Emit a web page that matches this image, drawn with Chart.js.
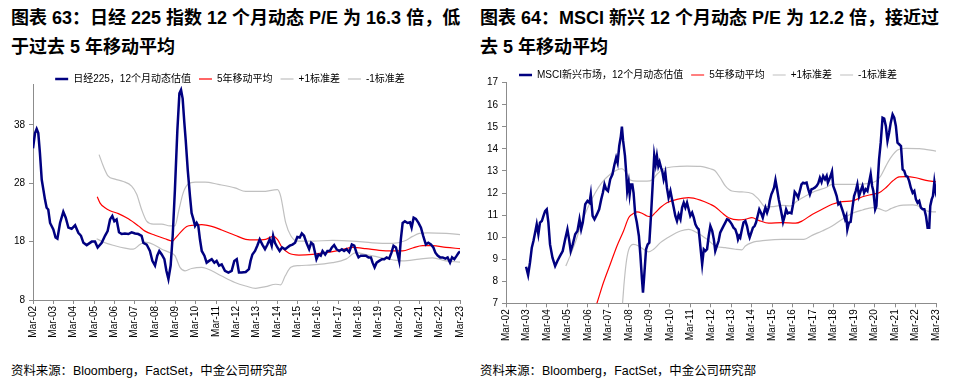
<!DOCTYPE html>
<html><head><meta charset="utf-8">
<script src="https://cdn.jsdelivr.net/npm/chart.js@4"></script>
<style>
html,body{margin:0;padding:0;background:#fff;width:960px;height:387px;overflow:hidden;position:relative;}
.title{position:absolute;font:bold 18px/29px "Liberation Sans","Noto Sans CJK SC",sans-serif;color:#000;white-space:nowrap;}
.src{position:absolute;font:12.4px/14px "Liberation Sans","Noto Sans CJK SC",sans-serif;color:#000;white-space:nowrap;}
.box{position:absolute;width:480px;height:290px;}
</style></head><body>
<div class="title" style="left:11px;top:4px">图表 63：日经 225 指数 12 个月动态 P/E 为 16.3 倍，低<br>于过去 5 年移动平均</div>
<div class="title" style="left:480px;top:4px">图表 64：MSCI 新兴 12 个月动态 P/E 为 12.2 倍，接近过<br>去 5 年移动平均</div>
<div class="box" style="left:0;top:62px"><canvas id="c1"></canvas></div>
<div class="box" style="left:480px;top:58px"><canvas id="c2"></canvas></div>
<div class="src" style="left:11px;top:364px">资料来源：Bloomberg，FactSet，中金公司研究部</div>
<div class="src" style="left:480px;top:364px">资料来源：Bloomberg，FactSet，中金公司研究部</div>
<script>
// x values: years since Mar-02
const xTickLabels = ['Mar-02','Mar-03','Mar-04','Mar-05','Mar-06','Mar-07','Mar-08','Mar-09','Mar-10','Mar-11','Mar-12','Mar-13','Mar-14','Mar-15','Mar-16','Mar-17','Mar-18','Mar-19','Mar-20','Mar-21','Mar-22','Mar-23'];
const nikkeiYTicks = [8,18,28,38];
const emYTicks = [7,8,9,10,11,12,13,14,15,16,17];

// ---- Nikkei 225 ----
const nikkeiT = [0.00,0.10,0.18,0.26,0.34,0.43,0.51,0.59,0.67,0.75,0.84,1.00,1.11,1.20,1.33,1.49,1.61,1.74,1.90,2.07,2.23,2.36,2.48,2.64,2.89,3.05,3.18,3.38,3.54,3.67,3.79,3.90,4.00,4.11,4.23,4.36,4.52,4.69,4.85,5.02,5.18,5.34,5.43,5.59,5.75,5.87,6.00,6.11,6.21,6.33,6.46,6.56,6.66,6.77,6.87,6.98,7.10,7.20,7.28,7.36,7.44,7.51,7.61,7.72,7.80,7.89,7.97,8.05,8.13,8.21,8.30,8.43,8.54,8.66,8.79,8.92,9.03,9.15,9.28,9.44,9.61,9.77,9.90,10.02,10.13,10.26,10.46,10.62,10.70,10.79,10.92,11.03,11.15,11.28,11.41,11.53,11.64,11.74,11.81,11.90,12.02,12.13,12.25,12.40,12.51,12.63,12.76,12.89,13.00,13.12,13.22,13.33,13.45,13.58,13.68,13.78,13.87,13.94,14.04,14.15,14.24,14.37,14.48,14.60,14.70,14.81,14.93,15.06,15.19,15.30,15.42,15.55,15.68,15.80,15.91,16.01,16.12,16.24,16.37,16.50,16.62,16.70,16.80,16.90,17.03,17.16,17.28,17.39,17.52,17.63,17.73,17.85,17.95,18.01,18.09,18.18,18.29,18.42,18.54,18.62,18.72,18.83,18.96,19.08,19.19,19.32,19.44,19.57,19.69,19.79,19.90,20.02,20.15,20.28,20.39,20.51,20.61,20.72,20.84,20.93,21.00];
const nikkeiPE = [34.0,36.6,37.3,36.6,33.2,28.6,26.9,25.2,23.8,23.5,21.2,20.1,18.7,18.5,21.2,23.1,22.1,20.4,20.2,20.8,19.5,19.0,17.8,17.4,18.0,18.0,17.0,17.8,19.0,19.8,21.8,22.4,21.5,21.8,19.6,19.3,19.4,19.3,19.6,19.4,19.3,19.0,17.8,17.5,16.4,14.7,13.9,15.6,16.4,15.8,15.0,13.0,11.6,13.9,19.0,26.9,37.1,43.4,44.0,42.5,38.5,35.4,30.3,25.8,22.9,21.8,20.7,21.2,20.7,18.4,16.4,15.6,14.4,14.7,15.0,14.4,14.7,13.9,14.1,13.0,12.7,13.0,14.7,15.0,12.7,12.7,12.8,13.3,14.7,15.8,16.4,17.3,18.4,17.5,16.7,17.5,18.4,17.3,19.0,17.8,17.0,16.4,17.0,16.7,17.0,17.3,17.5,17.8,18.8,18.7,19.4,19.0,17.8,16.7,17.8,17.5,16.1,15.0,15.8,15.6,16.4,15.8,16.4,16.4,17.0,17.4,16.7,16.4,16.7,16.4,16.7,16.2,17.5,17.3,16.1,15.3,15.6,15.6,15.6,15.3,15.3,14.4,13.6,14.4,14.7,15.0,15.0,15.3,15.1,16.1,17.3,17.0,15.6,14.7,18.4,21.2,21.5,21.2,21.3,20.4,22.1,21.9,21.2,20.4,19.0,17.5,17.8,17.5,17.0,16.1,15.6,15.3,15.3,15.1,15.3,14.4,15.3,15.0,15.6,16.1,16.3];
const nikkeiMaT = [3.16,3.30,3.54,3.79,4.20,4.69,5.18,5.51,6.00,6.49,6.85,6.98,7.23,7.56,7.89,8.30,8.79,9.28,9.93,10.46,10.95,11.44,11.81,12.02,12.25,12.59,13.08,13.74,14.40,15.06,15.71,16.37,17.03,17.68,18.18,18.67,19.16,19.65,20.31,21.00];
const nikkeiMa = [25.7,24.6,23.8,23.3,22.8,21.9,20.7,19.8,19.1,18.5,18.1,18.5,19.5,20.6,20.8,20.9,20.6,20.0,19.1,18.4,18.3,18.4,18.9,18.4,17.0,16.0,15.7,15.8,16.1,16.5,17.0,16.8,16.5,16.4,16.4,16.9,17.3,17.3,17.0,16.8];
const nikkeiUpT = [3.25,3.46,3.70,4.03,4.44,4.85,5.10,5.34,5.59,5.92,6.33,6.74,6.98,7.18,7.39,7.64,7.97,8.46,9.11,9.93,10.46,11.28,12.02,12.18,12.43,12.68,13.00,13.74,14.73,15.71,16.70,17.68,18.26,18.67,19.00,19.41,20.31,21.00];
const nikkeiUp = [32.9,30.9,29.2,28.7,28.3,27.5,26.1,23.5,21.5,21.0,21.0,20.7,20.7,23.5,26.4,27.9,28.2,28.2,27.8,27.2,26.6,26.6,26.9,25.8,21.2,19.0,18.1,18.1,18.2,18.1,17.8,17.7,18.1,18.9,19.4,19.5,19.4,19.2];
const nikkeiLoT = [3.13,3.54,4.03,4.52,4.93,5.26,5.51,5.92,6.33,6.74,6.98,7.23,7.48,7.80,8.30,8.79,9.28,9.93,10.46,10.95,11.44,11.94,12.18,12.40,12.68,13.08,13.74,14.73,15.39,15.88,16.37,17.03,17.68,18.18,19.00,19.65,20.31,21.00];
const nikkeiLo = [18.5,17.8,17.3,16.9,16.7,17.5,17.9,17.5,16.7,16.1,15.6,13.6,13.0,13.4,13.6,13.0,12.1,11.0,10.4,10.0,10.3,10.7,10.6,12.1,13.6,13.9,14.0,14.4,15.0,16.1,15.8,15.3,14.9,14.7,15.0,15.2,14.7,14.5];

// ---- MSCI EM ----
const emT = [0.98,1.08,1.17,1.26,1.34,1.42,1.50,1.58,1.66,1.75,1.83,1.91,1.99,2.07,2.15,2.27,2.40,2.51,2.64,2.77,2.89,3.00,3.08,3.16,3.26,3.38,3.49,3.59,3.67,3.75,3.87,3.98,4.08,4.14,4.23,4.32,4.44,4.55,4.65,4.73,4.81,4.89,4.98,5.09,5.20,5.30,5.38,5.45,5.53,5.61,5.66,5.72,5.81,5.87,5.92,5.99,6.04,6.10,6.17,6.23,6.31,6.39,6.49,6.56,6.64,6.69,6.75,6.84,6.92,7.00,7.08,7.16,7.24,7.31,7.37,7.44,7.50,7.57,7.63,7.70,7.78,7.86,7.94,8.03,8.11,8.19,8.27,8.35,8.43,8.52,8.60,8.68,8.76,8.84,8.92,9.00,9.09,9.17,9.25,9.33,9.41,9.49,9.58,9.66,9.74,9.82,9.90,9.98,10.07,10.15,10.22,10.30,10.38,10.46,10.54,10.62,10.71,10.79,10.87,10.95,11.03,11.11,11.20,11.28,11.33,11.39,11.44,11.52,11.60,11.69,11.77,11.85,11.90,11.98,12.06,12.14,12.21,12.29,12.37,12.45,12.54,12.62,12.67,12.75,12.83,12.88,12.96,13.03,13.09,13.16,13.24,13.32,13.40,13.48,13.53,13.61,13.68,13.76,13.84,13.94,14.02,14.10,14.19,14.27,14.35,14.43,14.51,14.59,14.68,14.76,14.84,14.92,15.00,15.08,15.17,15.25,15.33,15.41,15.49,15.58,15.66,15.72,15.79,15.85,15.92,15.98,16.07,16.15,16.23,16.31,16.39,16.47,16.56,16.62,16.67,16.75,16.83,16.92,17.00,17.08,17.16,17.24,17.32,17.41,17.49,17.57,17.65,17.73,17.81,17.88,17.94,18.03,18.09,18.16,18.22,18.30,18.39,18.47,18.55,18.63,18.71,18.79,18.88,18.96,19.04,19.12,19.20,19.29,19.37,19.45,19.53,19.61,19.69,19.77,19.86,19.94,20.02,20.10,20.18,20.26,20.35,20.43,20.51,20.59,20.67,20.72,20.79,20.85,20.92,20.98,21.00];
const emPE = [8.66,8.28,8.84,9.52,9.82,10.20,10.58,10.13,10.66,10.73,10.96,11.18,11.26,10.66,9.67,9.07,8.69,8.92,9.15,9.37,9.90,10.35,9.90,9.37,9.67,10.13,10.28,10.81,10.35,10.66,11.49,11.64,11.56,11.94,10.96,10.81,11.03,11.26,11.71,12.01,12.39,12.17,12.09,12.62,12.85,13.30,13.60,13.37,14.13,14.58,15.01,14.36,13.68,12.92,12.09,12.47,11.94,12.39,12.39,12.01,11.03,10.66,10.05,9.22,8.09,7.48,8.24,9.45,9.67,9.75,10.96,12.32,13.72,13.30,13.68,13.22,13.40,13.15,13.00,12.62,12.92,12.24,11.79,12.09,11.71,11.34,10.96,10.73,11.03,10.81,11.34,11.56,11.34,11.56,11.26,10.96,11.11,10.88,10.58,10.43,10.35,9.60,8.77,9.45,9.37,9.45,10.05,10.50,10.28,9.90,9.37,9.60,9.82,10.20,10.35,10.50,10.66,10.81,10.78,10.69,10.58,10.43,10.35,10.13,9.90,10.05,9.98,10.35,10.66,10.73,10.50,10.13,9.98,10.20,10.43,10.50,10.66,10.96,11.26,11.11,10.88,11.18,11.34,11.11,11.34,11.64,11.94,12.09,12.24,12.59,12.17,11.71,11.34,10.96,10.69,10.96,11.26,11.08,11.11,11.08,11.49,12.05,11.94,11.79,12.09,12.39,12.47,12.44,12.47,12.17,11.94,12.17,12.20,12.24,12.32,12.44,12.69,12.50,12.77,12.62,12.77,12.47,12.62,12.77,12.97,12.32,12.09,11.86,11.49,11.56,11.34,11.11,10.81,10.96,10.35,10.66,10.69,11.34,11.86,12.09,12.39,11.86,12.09,12.32,12.01,12.17,12.09,12.47,12.85,12.32,12.09,11.26,11.41,12.62,13.53,14.28,15.41,15.37,15.04,14.36,14.73,15.19,15.56,15.41,15.04,14.28,14.21,14.13,13.07,13.00,12.77,12.74,12.54,12.24,12.01,12.09,11.71,11.56,11.64,11.34,11.26,11.26,10.96,10.43,10.43,11.41,11.71,11.86,12.50,12.09,12.17];
const emMaT = [4.17,4.44,4.76,5.09,5.42,5.74,5.99,6.15,6.39,6.64,6.88,7.08,7.29,7.54,7.86,8.35,8.92,9.49,9.98,10.22,10.54,10.87,11.36,11.69,12.01,12.34,12.83,13.48,14.14,14.46,14.95,15.44,15.93,16.42,16.92,17.41,17.90,18.22,18.55,18.88,19.20,19.53,20.02,20.51,21.00];
const emMa = [6.25,7.0,7.94,8.77,9.60,10.28,10.88,11.03,11.14,11.08,10.96,10.93,11.11,11.34,11.56,11.71,11.79,11.68,11.49,11.37,11.11,10.88,10.78,10.81,10.88,10.76,10.63,10.66,10.63,10.73,11.03,11.26,11.49,11.61,11.64,11.83,11.94,12.01,12.24,12.54,12.73,12.74,12.69,12.57,12.51];
const emUpT = [2.92,3.13,3.38,3.70,4.03,4.36,4.68,5.09,5.42,5.66,5.87,6.07,6.39,6.88,7.13,7.37,7.70,8.19,8.84,9.49,9.98,10.22,10.46,10.71,11.03,11.52,12.01,12.34,12.67,12.99,13.48,13.89,14.22,14.63,15.12,15.61,15.93,16.42,17.08,17.73,18.06,18.30,18.55,18.79,19.12,19.53,20.18,21.00];
const emUp = [8.69,9.15,9.75,10.66,11.41,12.01,12.47,12.85,13.04,13.10,12.92,12.59,12.54,12.54,12.59,12.85,13.10,13.19,13.22,13.21,13.10,13.00,12.69,12.32,12.09,12.05,11.98,11.71,11.37,11.38,11.44,11.41,11.64,11.86,12.09,12.24,12.39,12.39,12.39,12.44,12.53,12.77,13.22,13.60,13.95,14.02,14.01,13.90];
const emLoT = [5.60,5.69,5.77,5.87,5.99,6.23,6.48,6.72,6.97,7.21,7.54,8.03,8.52,8.92,9.33,9.82,10.22,10.71,11.20,11.52,11.69,12.01,12.67,13.48,14.55,14.95,15.44,15.93,16.42,16.92,17.41,17.90,18.22,18.55,18.79,19.29,19.86,20.26,20.59,21.00];
const emLo = [6.3,7.0,7.94,8.84,9.42,9.67,9.60,9.45,9.33,9.45,9.75,10.05,10.28,10.35,10.20,9.90,9.60,9.52,9.45,9.42,9.60,9.75,9.85,9.90,9.90,10.08,10.28,10.50,10.81,11.08,11.23,11.34,11.29,11.18,11.29,11.44,11.46,11.37,11.18,11.14];

const FONT = '"Liberation Sans","Noto Sans CJK SC",sans-serif';
Chart.defaults.font.family = FONT;
Chart.defaults.color = '#000';

const pts = (xs, ys) => xs.map((x, i) => ({x, y: ys[i]}));

const legendHeight = {
  id: 'legendHeight',
  beforeLayout(chart, args, opts) {
    const lg = chart.legend;
    if (lg && !lg.__fixed) {
      const orig = lg.fit;
      lg.fit = function () { orig.call(this); this.height = opts.height; };
      lg.__fixed = true;
    }
  }
};

function makeChart(id, cfg) {
  const line = (label, data, color, width, smooth) => ({
    label, data, borderColor: color, backgroundColor: color, borderWidth: width,
    pointRadius: 0, fill: false,
    tension: smooth ? 0.4 : 0, cubicInterpolationMode: smooth ? 'monotone' : 'default'
  });
  return new Chart(document.getElementById(id), {
    type: 'line',
    data: { datasets: [
      line(cfg.labels[0], cfg.main, '#000080', 2.5, false),
      line(cfg.labels[1], cfg.ma, '#FF0000', 1.2, true),
      line(cfg.labels[2], cfg.up, '#C0C0C0', 1.2, true),
      line(cfg.labels[3], cfg.lo, '#C0C0C0', 1.2, true)
    ]},
    plugins: [legendHeight],
    options: {
      responsive: true, maintainAspectRatio: false, animation: false, devicePixelRatio: 1,
      events: [],
      layout: { padding: { left: 0, right: cfg.padRight, top: 4, bottom: 0 } },
      plugins: {
        legendHeight: { height: cfg.legendH - 4 },
        tooltip: { enabled: false },
        legend: { display: true, position: 'top',
          labels: { usePointStyle: true, pointStyle: 'line', pointStyleWidth: 13, padding: 8,
                    font: { size: 10, family: FONT }, color: '#000' } }
      },
      scales: {
        x: { type: 'linear', min: 0, max: 21,
          afterBuildTicks: s => { s.ticks = xTickLabels.map((_, i) => ({ value: i })); },
          afterFit: s => { s.height = cfg.xAxisH; },
          ticks: { autoSkip: false, minRotation: 90, maxRotation: 90, padding: 2,
                   font: { size: 10, family: FONT }, color: '#000',
                   callback: v => xTickLabels[Math.round(v)] },
          grid: { display: true, drawOnChartArea: false, drawTicks: true, tickLength: 4, color: '#8c8c8c' },
          border: { display: true, color: '#8c8c8c', width: 1 }
        },
        y: { min: cfg.yMin, max: cfg.yMax,
          afterBuildTicks: s => { s.ticks = cfg.yTicks.map(v => ({ value: v })); },
          afterFit: s => { s.width = cfg.yAxisW; },
          ticks: { padding: 4, font: { size: 10, family: FONT }, color: '#000' },
          grid: { display: true, drawOnChartArea: false, drawTicks: true, tickLength: 4, color: '#8c8c8c' },
          border: { display: true, color: '#8c8c8c', width: 1 }
        }
      }
    }
  });
}

makeChart('c1', {
  labels: ['日经225，12个月动态估值', '5年移动平均', '+1标准差', '-1标准差'],
  main: pts(nikkeiT, nikkeiPE), ma: pts(nikkeiMaT, nikkeiMa),
  up: pts(nikkeiUpT, nikkeiUp), lo: pts(nikkeiLoT, nikkeiLo),
  yMin: 8, yMax: 45, yTicks: nikkeiYTicks,
  padRight: 20, legendH: 22, xAxisH: 52, yAxisW: 33
});
makeChart('c2', {
  labels: ['MSCI新兴市场，12个月动态估值', '5年移动平均', '+1标准差', '-1标准差'],
  main: pts(emT, emPE), ma: pts(emMaT, emMa),
  up: pts(emUpT, emUp), lo: pts(emLoT, emLo),
  yMin: 7, yMax: 17, yTicks: emYTicks,
  padRight: 24, legendH: 24.7, xAxisH: 44.7, yAxisW: 26
});
</script>
</body></html>
